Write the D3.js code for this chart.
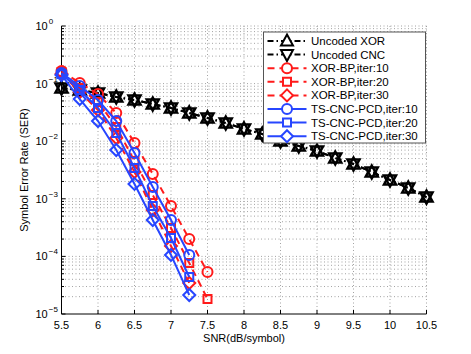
<!DOCTYPE html>
<html>
<head>
<meta charset="utf-8">
<script src="https://cdn.jsdelivr.net/npm/d3@7"></script>
<style>
  body { margin: 0; background: #fff; }
  text { font-family: "Liberation Sans", Arial, sans-serif; }
</style>
</head>
<body>
<div id="chart"></div>
<script>
// SNR grids
const snrUncoded = [5.5, 5.75, 6, 6.25, 6.5, 6.75, 7, 7.25, 7.5, 7.75, 8, 8.25, 8.5,
  8.75, 9, 9.25, 9.5, 9.75, 10, 10.25, 10.5];
const snrXorBp = [5.5, 5.75, 6, 6.25, 6.5, 6.75, 7, 7.25, 7.5];
const snrTsCnc = [5.5, 5.75, 6, 6.25, 6.5, 6.75, 7, 7.25];

// SER values
const serUncodedXor = [0.0839, 0.0774, 0.0687, 0.0585, 0.0519, 0.0442, 0.0377, 0.0309,
  0.0253, 0.0207, 0.0163, 0.0133, 0.0101, 0.00826, 0.00676, 0.00511, 0.00402,
  0.00292, 0.00212, 0.00154, 0.00107];
const serUncodedCnc = [0.0839, 0.0774, 0.0687, 0.0585, 0.0519, 0.0442, 0.0377, 0.0309,
  0.0253, 0.0207, 0.0163, 0.0133, 0.0101, 0.00826, 0.00676, 0.00511, 0.00402,
  0.00292, 0.00212, 0.00154, 0.00107];
const serXorBp10 = [0.1655, 0.1024, 0.066, 0.0309, 0.00931, 0.0027, 7.5e-4, 2.0e-4, 5.36e-5];
const serXorBp20 = [0.159, 0.0839, 0.048, 0.0177, 0.00453, 0.00116, 3.11e-4, 7.68e-5, 1.82e-5];
const serXorBp30 = [0.147, 0.0715, 0.0348, 0.0114, 0.00292, 6.39e-4, 1.52e-4, 3.45e-5];
const serTsCnc10 = [0.153, 0.0909, 0.0519, 0.0224, 0.00624, 0.0016, 4.28e-4, 1.06e-4];
const serTsCnc20 = [0.147, 0.0774, 0.0377, 0.0139, 0.00343, 7.5e-4, 2.09e-4, 4.39e-5];
const serTsCnc30 = [0.141, 0.054, 0.0224, 0.00703, 0.00181, 4.28e-4, 1.06e-4, 2.14e-5];

const xTicks = [5.5, 6, 6.5, 7, 7.5, 8, 8.5, 9, 9.5, 10, 10.5];
const yDecades = [0, -1, -2, -3, -4, -5];

const BLACK = '#000', RED = '#ff1a1a', BLUE = '#2746ff';

const series = [
  { name: 'Uncoded XOR', x: snrUncoded, y: serUncodedXor, color: BLACK, dash: '6,3,1.5,3', marker: '^' },
  { name: 'Uncoded CNC', x: snrUncoded, y: serUncodedCnc, color: BLACK, dash: '6,3,1.5,3', marker: 'v' },
  { name: 'XOR-BP,iter:10', x: snrXorBp, y: serXorBp10, color: RED, dash: '7,5', marker: 'o' },
  { name: 'XOR-BP,iter:20', x: snrXorBp, y: serXorBp20, color: RED, dash: '7,5', marker: 's' },
  { name: 'XOR-BP,iter:30', x: snrXorBp.slice(0, 8), y: serXorBp30, color: RED, dash: '7,5', marker: 'd' },
  { name: 'TS-CNC-PCD,iter:10', x: snrTsCnc, y: serTsCnc10, color: BLUE, dash: null, marker: 'o' },
  { name: 'TS-CNC-PCD,iter:20', x: snrTsCnc, y: serTsCnc20, color: BLUE, dash: null, marker: 's' },
  { name: 'TS-CNC-PCD,iter:30', x: snrTsCnc, y: serTsCnc30, color: BLUE, dash: null, marker: 'd' },
];

const width = 471, height = 354;
const margin = { top: 26, right: 44.5, bottom: 40, left: 61.5 };

const x = d3.scaleLinear().domain([5.5, 10.5]).range([margin.left, width - margin.right]);
const y = d3.scaleLog().domain([1e-5, 1]).range([height - margin.bottom, margin.top]);

function markerPath(type) {
  switch (type) {
    case 'o': {
      const r = 5;
      return `M${r},0A${r},${r} 0 1,1 ${-r},0A${r},${r} 0 1,1 ${r},0Z`;
    }
    case 's':
      return 'M-4,-4h8v8h-8Z';
    case 'd':
      return 'M0,-6L6,0L0,6L-6,0Z';
    case '^':
      return 'M0,-6.5L6,4.5L-6,4.5Z';
    case 'v':
      return 'M0,6.5L6,-4.5L-6,-4.5Z';
  }
  return '';
}

const svg = d3.select('#chart').append('svg')
  .attr('width', width)
  .attr('height', height);

// grid
const grid = svg.append('g')
  .attr('stroke', '#8c8c8c')
  .attr('stroke-width', 0.8)
  .attr('stroke-dasharray', '1,2.5');

grid.selectAll('.vgrid')
  .data(xTicks.slice(1))
  .join('line')
  .attr('x1', (d) => x(d)).attr('x2', (d) => x(d))
  .attr('y1', y(1e-5)).attr('y2', y(1));

const yMinor = [];
yDecades.slice(1).forEach((e) => {
  for (let k = 2; k <= 9; k++) yMinor.push(k * 10 ** e);
});
grid.selectAll('.hgrid')
  .data(yDecades.slice(0, -1).map((e) => 10 ** e).concat(yMinor))
  .join('line')
  .attr('x1', x(5.5)).attr('x2', x(10.5))
  .attr('y1', (d) => y(d)).attr('y2', (d) => y(d));

// axes (MATLAB style: inward ticks, no box)
const axes = svg.append('g').attr('stroke', '#000').attr('stroke-width', 1);
axes.append('line')
  .attr('x1', x(5.5)).attr('x2', x(10.5))
  .attr('y1', y(1e-5)).attr('y2', y(1e-5));
axes.append('line')
  .attr('x1', x(5.5)).attr('x2', x(5.5))
  .attr('y1', y(1e-5)).attr('y2', y(1));

axes.selectAll('.xtick')
  .data(xTicks)
  .join('line')
  .attr('x1', (d) => x(d)).attr('x2', (d) => x(d))
  .attr('y1', y(1e-5)).attr('y2', y(1e-5) - 4);

axes.selectAll('.ytick')
  .data(yDecades)
  .join('line')
  .attr('x1', x(5.5)).attr('x2', x(5.5) + 4)
  .attr('y1', (d) => y(10 ** d)).attr('y2', (d) => y(10 ** d));

axes.selectAll('.yminor')
  .data(yMinor)
  .join('line')
  .attr('x1', x(5.5)).attr('x2', x(5.5) + 2.5)
  .attr('y1', (d) => y(d)).attr('y2', (d) => y(d));

svg.append('g')
  .selectAll('text')
  .data(xTicks)
  .join('text')
  .attr('x', (d) => x(d))
  .attr('y', y(1e-5) + 15)
  .attr('text-anchor', 'middle')
  .attr('font-size', 11)
  .text((d) => d);

const yLabels = svg.append('g')
  .selectAll('text')
  .data(yDecades)
  .join('text')
  .attr('x', x(5.5) - 26)
  .attr('y', (d) => y(10 ** d) + 4)
  .attr('font-size', 11)
  .text('10');
yLabels.append('tspan')
  .attr('dx', 1)
  .attr('dy', -6)
  .attr('font-size', 8)
  .text((d) => (d === 0 ? '0' : `\u2212${-d}`));

svg.append('text')
  .attr('x', (x(5.5) + x(10.5)) / 2)
  .attr('y', height - 12)
  .attr('text-anchor', 'middle')
  .attr('font-size', 11)
  .text('SNR(dB/symbol)');

svg.append('text')
  .attr('transform', `translate(28,${(y(1) + y(1e-5)) / 2}) rotate(-90)`)
  .attr('text-anchor', 'middle')
  .attr('font-size', 11)
  .text('Symbol Error Rate (SER)');

// curves
const line = d3.line()
  .x((d) => x(d[0]))
  .y((d) => y(d[1]));

const plot = svg.append('g');
series.forEach((s) => {
  const pts = s.x.map((v, i) => [v, s.y[i]]);
  const g = plot.append('g');
  g.append('path')
    .datum(pts)
    .attr('d', line)
    .attr('fill', 'none')
    .attr('stroke', s.color)
    .attr('stroke-width', 2)
    .attr('stroke-dasharray', s.dash);
  g.selectAll('path.m')
    .data(pts)
    .join('path')
    .attr('class', 'm')
    .attr('transform', (d) => `translate(${x(d[0])},${y(d[1])})`)
    .attr('d', markerPath(s.marker))
    .attr('fill', 'none')
    .attr('stroke', s.color)
    .attr('stroke-width', s.color === BLACK ? 2.5 : 2);
});

// legend
const lx = 263.5, ly = 32, lw = 162, rowH = 13.6;
const legend = svg.append('g');
legend.append('rect')
  .attr('x', lx).attr('y', ly)
  .attr('width', lw).attr('height', 111)
  .attr('fill', '#fff')
  .attr('stroke', '#555')
  .attr('stroke-width', 1);

const item = legend.selectAll('g.item')
  .data(series)
  .join('g')
  .attr('class', 'item')
  .attr('transform', (d, i) => `translate(${lx},${ly + 9 + i * rowH})`);

item.append('line')
  .attr('x1', 4).attr('x2', 43)
  .attr('y1', 0).attr('y2', 0)
  .attr('stroke', (d) => d.color)
  .attr('stroke-width', 2)
  .attr('stroke-dasharray', (d) => d.dash);
item.append('path')
  .attr('transform', 'translate(23.5,0)')
  .attr('d', (d) => markerPath(d.marker))
  .attr('fill', '#fff')
  .attr('stroke', (d) => d.color)
  .attr('stroke-width', 2);
item.append('text')
  .attr('x', 47.5)
  .attr('y', 4)
  .attr('font-size', 11.5)
  .text((d) => d.name);
</script>
</body>
</html>
